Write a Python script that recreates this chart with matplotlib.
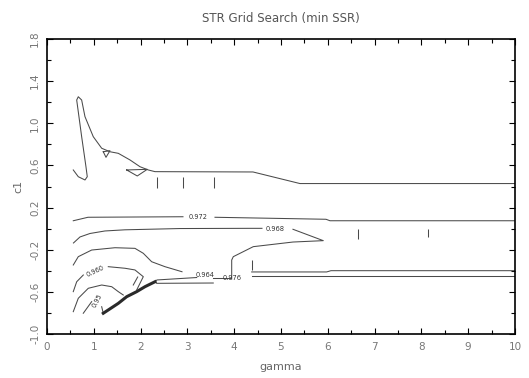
import matplotlib
matplotlib.use("Agg")
import matplotlib.pyplot as plt
from matplotlib.ticker import MultipleLocator

# contour fragments (gamma, c1)
top_g = [0.562, 0.669, 0.812, 0.861, 0.833, 0.741, 0.635, 0.669, 0.741, 0.812, 0.989, 1.169,
         1.346, 1.524, 1.774, 1.987, 2.165, 2.308, 4.402, 5.406, 10.0]
top_c = [0.557, 0.493, 0.462, 0.493, 0.588, 0.873, 1.221, 1.252, 1.221, 1.063, 0.873, 0.763,
         0.730, 0.715, 0.652, 0.588, 0.557, 0.541, 0.538, 0.428, 0.428]
tri1_g = [1.203, 1.346, 1.261, 1.203]
tri1_c = [0.730, 0.740, 0.677, 0.730]
tri2_g = [1.703, 2.143, 1.929, 1.703]
tri2_c = [0.557, 0.563, 0.500, 0.557]

l972a_g = [0.562, 0.876, 2.906]
l972a_c = [0.075, 0.108, 0.113]
l972b_g = [3.590, 5.962, 6.047, 10.0]
l972b_c = [0.108, 0.089, 0.075, 0.075]

l968a_g = [0.566, 0.705, 0.919, 1.239, 1.667, 2.842, 4.338, 4.594]
l968a_c = [-0.136, -0.079, -0.046, -0.022, -0.011, 0.001, 0.003, 0.003]
l968b_g = [5.256, 5.904, 5.256, 4.408, 3.981, 3.947, 3.947]
l968b_c = [-0.006, -0.114, -0.127, -0.171, -0.266, -0.298, -0.478]

l964_g = [0.562, 0.669, 0.955, 1.453, 1.880, 2.058, 2.237, 2.521, 2.885]
l964_c = [-0.345, -0.266, -0.203, -0.181, -0.187, -0.234, -0.314, -0.361, -0.409]

l960a_g = [0.562, 0.635, 0.776]
l960a_c = [-0.598, -0.504, -0.440]
l960b_g = [1.310, 1.667, 1.880, 2.058, 1.917]
l960b_c = [-0.361, -0.376, -0.392, -0.456, -0.582]
v960_g = [1.844, 1.938]
v960_c = [-0.535, -0.459]

l956_g = [0.562, 0.669, 0.883, 1.169, 1.383, 1.524, 1.630]
l956_c = [-0.788, -0.661, -0.566, -0.535, -0.551, -0.598, -0.630]

l95a_g = [0.776, 0.955]
l95a_c = [-0.803, -0.693]
l95b_g = [1.169, 1.203]
l95b_c = [-0.741, -0.803]

stair_g = [1.203, 1.524, 1.703, 1.917, 2.094, 2.308]
stair_c = [-0.803, -0.709, -0.646, -0.598, -0.551, -0.504]

up_a_g = [2.308, 2.350, 3.199]
up_a_c = [-0.504, -0.487, -0.464]
up_b_g = [3.553, 3.910]
up_b_c = [-0.468, -0.468]
low_g = [2.308, 2.344, 3.553]
low_c = [-0.504, -0.519, -0.516]
long1_g = [4.374, 5.976, 6.068, 10.0]
long1_c = [-0.411, -0.411, -0.399, -0.399]
long2_g = [4.374, 10.0]
long2_c = [-0.452, -0.452]

# short vertical fragments
ticks_g = [2.357, 2.912, 3.568, 6.639, 8.148, 4.391]
ticks_lo = [0.383, 0.383, 0.383, -0.101, -0.082, -0.392]
ticks_hi = [0.493, 0.493, 0.493, -0.006, -0.006, -0.298]

lab_txt = ["0.972", "0.968", "0.964", "0.960", "0.95", "0.976"]
lab_g = [3.226, 4.872, 3.376, 1.026, 1.068, 3.953]
lab_c = [0.111, 0.001, -0.440, -0.402, -0.687, -0.468]
lab_rot = [0, 0, 0, 25, 62, 0]

fig = plt.figure(figsize=(5.29, 3.78), dpi=100)
ax = fig.add_axes([0.0888, 0.1164, 0.8847, 0.7804])

lc = "#4a4a4a"
lines = [(top_g, top_c), (tri1_g, tri1_c), (tri2_g, tri2_c), (l972a_g, l972a_c), (l972b_g, l972b_c),
         (l968a_g, l968a_c), (l968b_g, l968b_c), (l964_g, l964_c), (l960a_g, l960a_c),
         (l960b_g, l960b_c), (v960_g, v960_c), (l956_g, l956_c), (l95a_g, l95a_c), (l95b_g, l95b_c),
         (up_a_g, up_a_c), (up_b_g, up_b_c), (low_g, low_c), (long1_g, long1_c), (long2_g, long2_c)]
for g, c in lines:
    ax.plot(g, c, color=lc, lw=0.75)
ax.plot(stair_g, stair_c, color="#2a2a2a", lw=2.2)
ax.vlines(ticks_g, ticks_lo, ticks_hi, color=lc, lw=0.75)

for t, g, c, r in zip(lab_txt, lab_g, lab_c, lab_rot):
    ax.text(g, c, t, fontsize=4.8, color="#333333", ha="center", va="center", rotation=r)

ax.set_xlim(0, 10)
ax.set_ylim(-1.0, 1.8)
ax.xaxis.set_major_locator(MultipleLocator(1))
ax.xaxis.set_minor_locator(MultipleLocator(0.5))
ax.yaxis.set_major_locator(MultipleLocator(0.4))
ax.yaxis.set_minor_locator(MultipleLocator(0.2))
ax.tick_params(which="both", direction="in", top=True, right=True, labelsize=7.5,
               labelcolor="#777777", width=0.8)
ax.tick_params(which="major", length=4)
ax.tick_params(which="minor", length=3)
ax.tick_params(axis="x", pad=6)
ax.tick_params(axis="y", pad=5)
ax.set_yticks([-1.0, -0.6, -0.2, 0.2, 0.6, 1.0, 1.4, 1.8])
ax.set_yticklabels(["-1.0", "-0.6", "-0.2", "0.2", "0.6", "1.0", "1.4", "1.8"], rotation=90, va="center")
for s in ax.spines.values():
    s.set_linewidth(1.2)

ax.set_xlabel("gamma", fontsize=8, color="#666666", labelpad=7)
ax.set_ylabel("c1", fontsize=8, color="#666666", labelpad=5)
ax.set_title("STR Grid Search (min SSR)", fontsize=8.5, color="#555555", pad=12)

fig.savefig("out.png", dpi=100)
